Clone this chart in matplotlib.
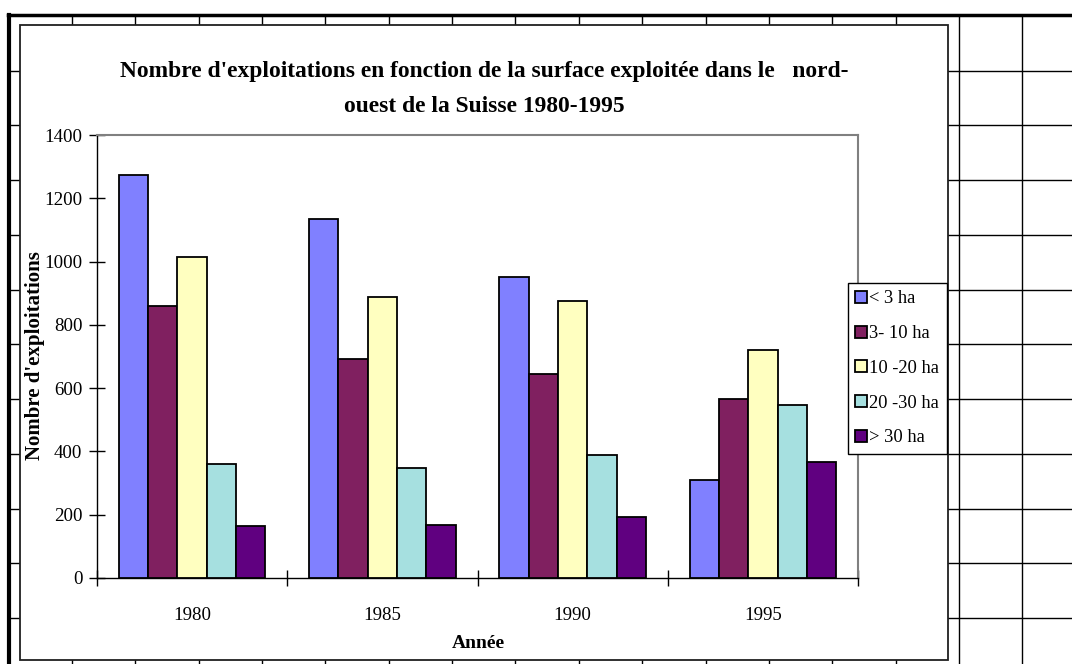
import numpy as np
import matplotlib.pyplot as plt
from matplotlib.patches import Rectangle, Patch

plt.rcParams['font.family'] = ['Liberation Serif', 'DejaVu Serif']

years = ['1980', '1985', '1990', '1995']
classes = ['< 3 ha', '3- 10 ha', '10 -20 ha', '20 -30 ha', '> 30 ha']
lt3 = [1274, 1134, 952, 311]
ha3_10 = [860, 691, 646, 566]
ha10_20 = [1015, 889, 875, 722]
ha20_30 = [359, 348, 389, 547]
gt30 = [163, 169, 193, 366]
colors = ['#8080ff', '#802060', '#ffffc0', '#a6e0e0', '#600080']

W, H = 1072, 664
fig = plt.figure(figsize=(W / 100, H / 100), dpi=100)

# spreadsheet background, in pixel coords
bg = fig.add_axes([0, 0, 1, 1])
bg.set_xlim(0, W)
bg.set_ylim(H, 0)
bg.axis('off')
for x in np.arange(72, W, 63.35):
    bg.plot([x, x], [15, H], color='black', lw=1.0, zorder=1)
for y in np.arange(70.7, H, 54.75):
    bg.plot([8, W], [y, y], color='black', lw=1.0, zorder=1)
bg.plot([8, W], [15, 15], color='black', lw=2.5, zorder=2)
bg.plot([9, 9], [15, H], color='black', lw=3.0, zorder=2)
bg.add_patch(Rectangle((20, 25), 928, 635, facecolor='white',
                       edgecolor='#202020', lw=1.3, zorder=3))
bg.text(484, 71, "Nombre d'exploitations en fonction de la surface exploitée dans le   nord-",
        ha='center', va='center', fontsize=16.9, fontweight='bold', zorder=4)
bg.text(484, 106, "ouest de la Suisse 1980-1995",
        ha='center', va='center', fontsize=16.9, fontweight='bold', zorder=4)
bg.text(478, 643, 'Année', ha='center', va='center',
        fontsize=14, fontweight='bold', zorder=4)
bg.text(35, 356, "Nombre d'exploitations", ha='center', va='center', rotation=90,
        fontsize=15, fontweight='bold', zorder=4)

# plot area
ax = fig.add_axes([97 / W, (H - 578) / H, (858 - 97) / W, (578 - 135) / H])
ax.set_zorder(5)
series = [lt3, ha3_10, ha10_20, ha20_30, gt30]
n = len(series)
bw = 1 / (n + 1.5)
x = np.arange(len(years))
for i, (vals, c) in enumerate(zip(series, colors)):
    ax.bar(x + (i - (n - 1) / 2) * bw, vals, bw, color=c,
           edgecolor='black', linewidth=1.3, label=classes[i], zorder=3)

ax.set_xlim(-0.5, len(years) - 0.5)
ax.set_ylim(0, 1400)
ax.set_yticks(np.arange(0, 1401, 200))
ax.set_xticks(np.arange(-0.5, len(years), 1))
ax.set_xticklabels([])
ax.set_xticks(x, minor=True)
ax.set_xticklabels(years, minor=True)
ax.tick_params(axis='x', which='minor', length=0, pad=21, labelsize=13.6)
ax.tick_params(axis='x', which='major', direction='inout', length=11, width=1)
ax.tick_params(axis='y', direction='inout', length=11, width=1, pad=5, labelsize=13.6)
for s in ['top', 'right']:
    ax.spines[s].set_color('#808080')
    ax.spines[s].set_linewidth(1.5)
for s in ['left', 'bottom']:
    ax.spines[s].set_color('black')
    ax.spines[s].set_linewidth(1.0)

handles = [Patch(facecolor=c, edgecolor='black', linewidth=1.3) for c in colors]
leg = fig.legend(handles, classes, loc='upper left',
                 bbox_to_anchor=(847.5 / W, 1 - 283 / H), bbox_transform=fig.transFigure,
                 fontsize=13.3, frameon=True, fancybox=False, edgecolor='black',
                 framealpha=1, borderaxespad=0, handlelength=0.63, handleheight=0.63,
                 handletextpad=0.15, labelspacing=0.96, borderpad=0.4)
leg.get_frame().set_linewidth(1.0)
leg.set_zorder(6)

fig.savefig('out.png', dpi=100)
